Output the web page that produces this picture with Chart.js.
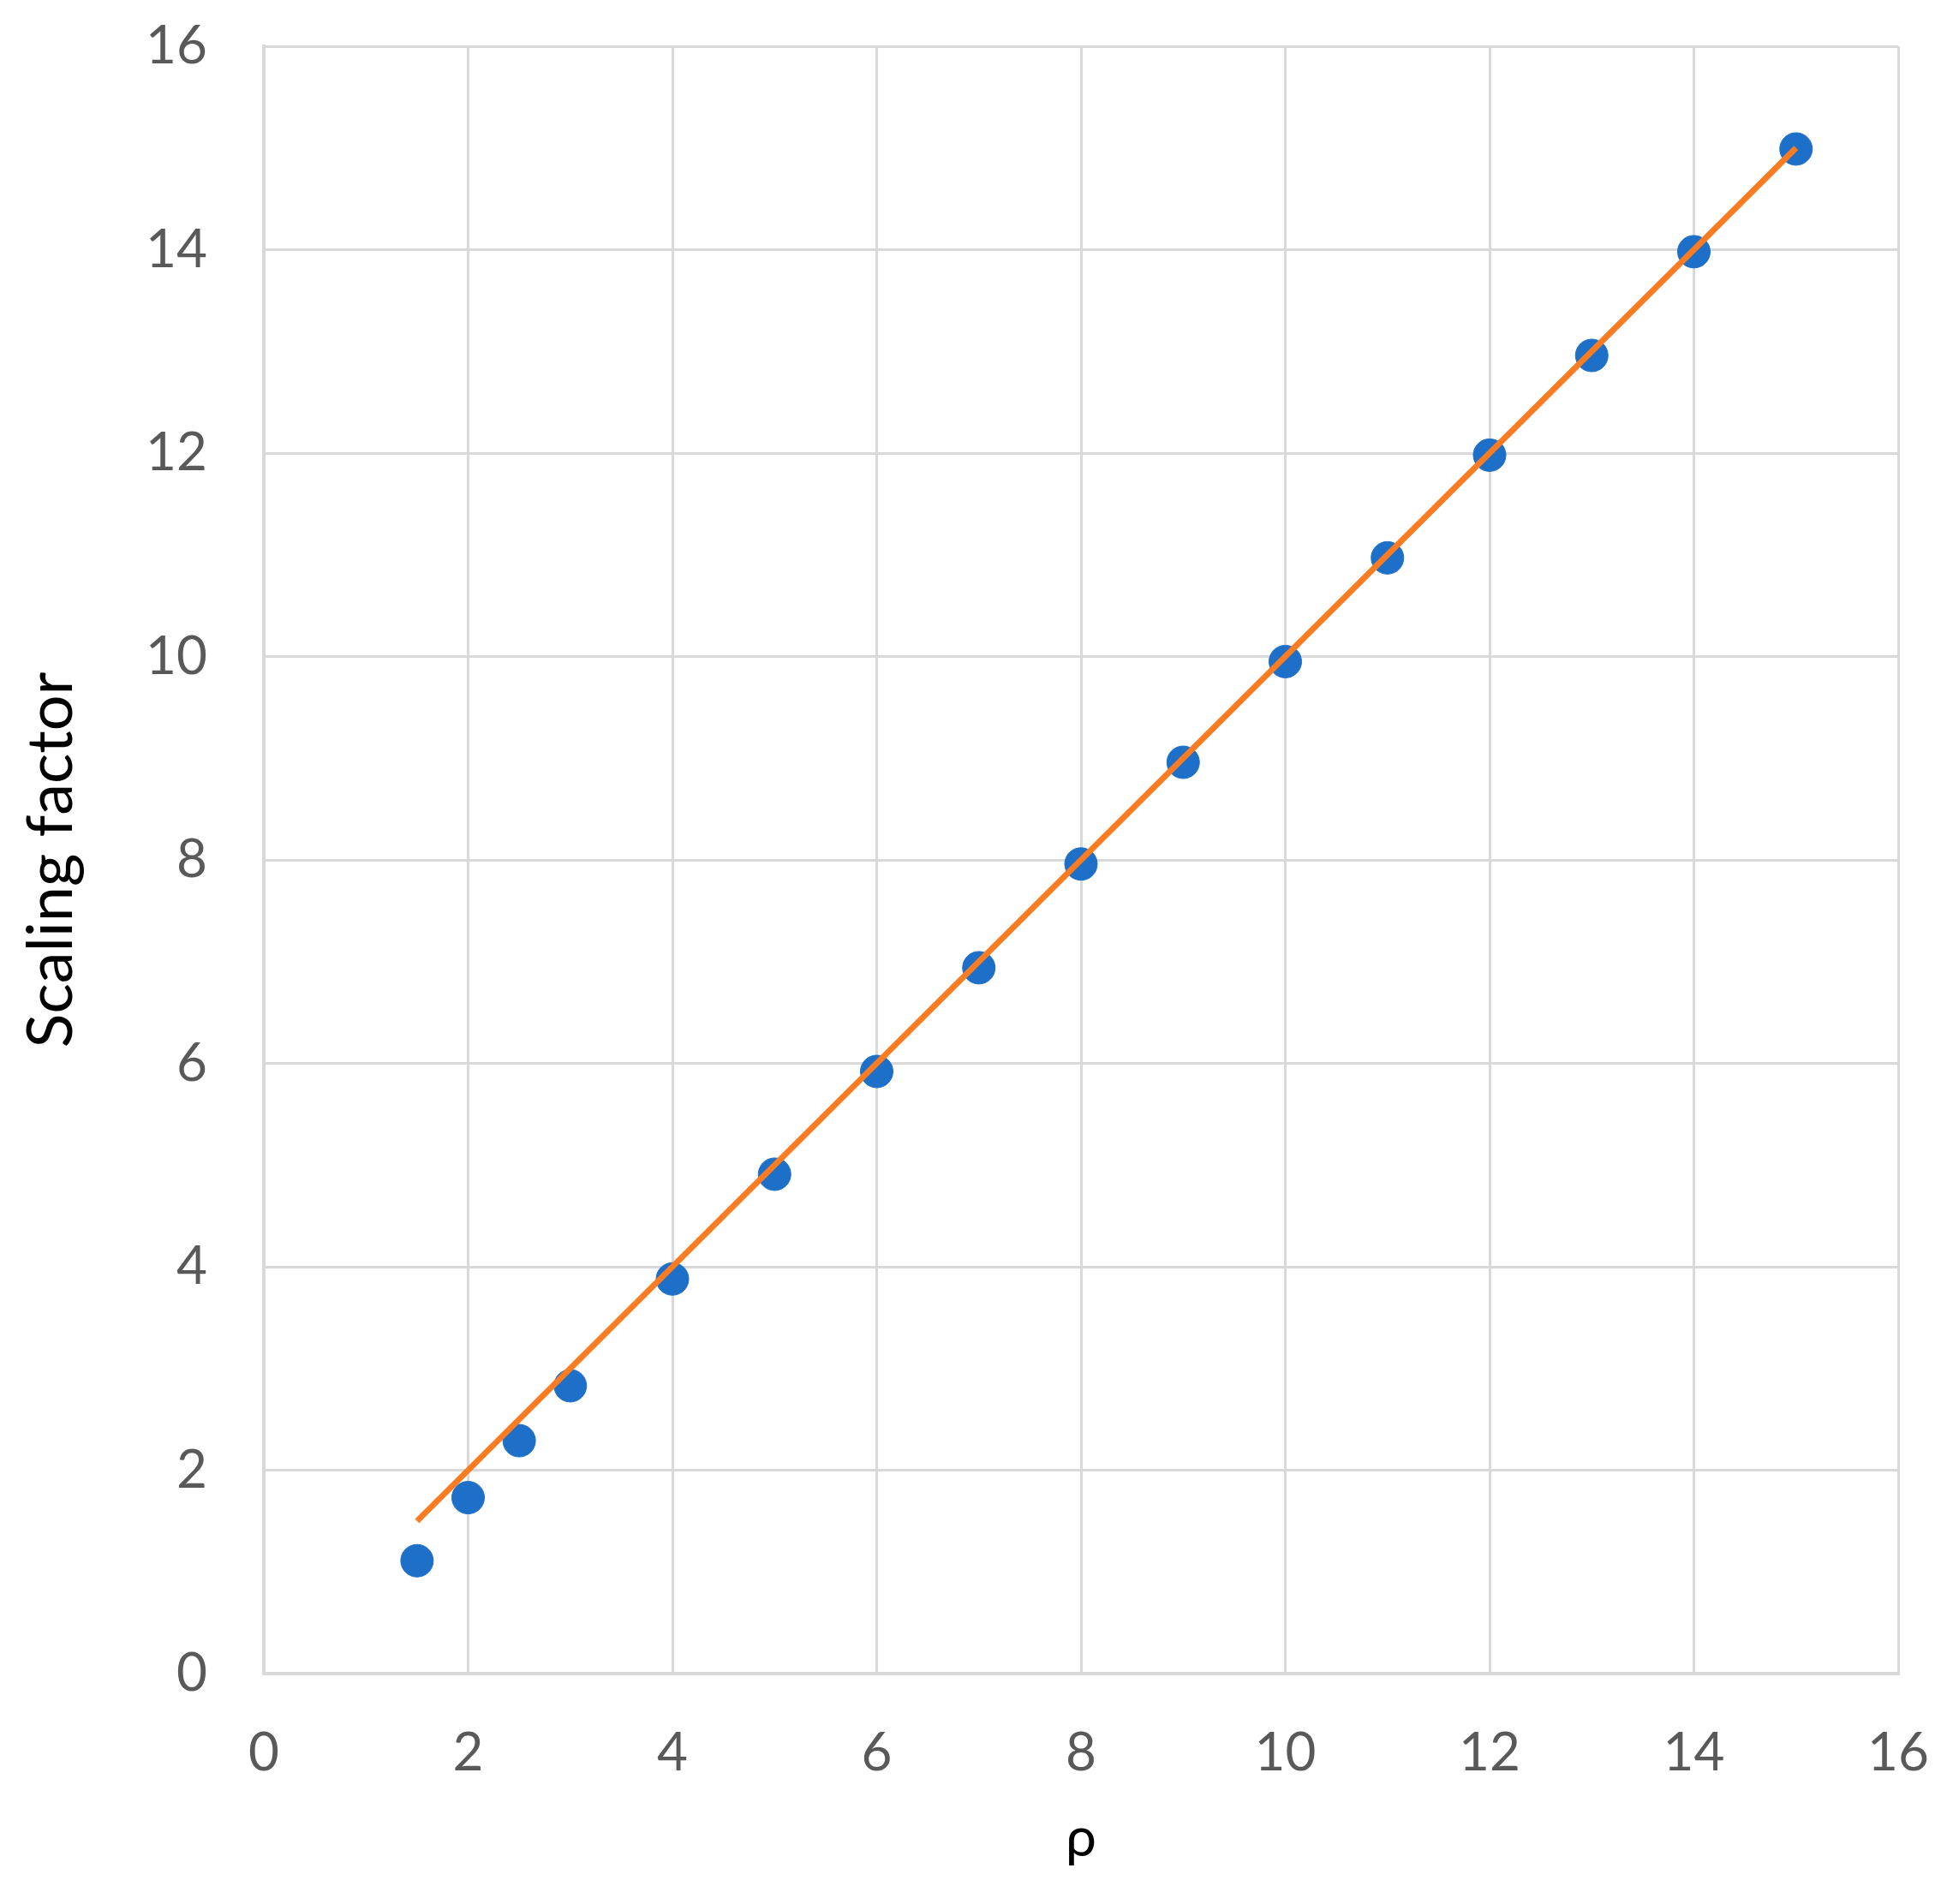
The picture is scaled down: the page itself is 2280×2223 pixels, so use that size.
<!DOCTYPE html>
<html>
<head>
<meta charset="utf-8">
<script src="https://cdn.jsdelivr.net/npm/chart.js@4.4.1/dist/chart.umd.min.js"></script>
<style>
  html, body { margin: 0; padding: 0; background: #fff; }
  #wrap { width: 2280px; height: 2223px; }
</style>
</head>
<body>
<div id="wrap"><canvas id="myChart" width="2280" height="2223"></canvas></div>
<script>
// dati
const rho = [1.5, 2, 2.5, 3, 4, 5, 6, 7, 8, 9, 10, 11, 12, 13, 14, 15];
const scalingFactor = [1.11, 1.73, 2.29, 2.83, 3.88, 4.91, 5.92, 6.94, 7.96, 8.96, 9.95, 10.97, 11.98, 12.96, 13.98, 14.99];
const fitX = [1.5, 15];
const fitY = [1.5, 15];

const fontFamily = 'Lato, "Open Sans", sans-serif';

const ctx = document.getElementById('myChart').getContext('2d');
const chart = new Chart(ctx, {
  type: 'scatter',
  data: {
    datasets: [{
      label: 'Fit',
      type: 'line',
      data: fitX.map((x, i) => ({ x: x, y: fitY[i] })),
      borderColor: '#f97c22',
      borderWidth: 7,
      pointRadius: 0,
      fill: false,
      order: 1
    }, {
      label: 'Scaling factor',
      data: rho.map((x, i) => ({ x: x, y: scalingFactor[i] })),
      backgroundColor: '#1d6fc8',
      borderColor: '#1d6fc8',
      pointRadius: 19,
      pointHoverRadius: 19,
      order: 2
    }]
  },
  options: {
    responsive: false,
    animation: false,
    layout: { padding: { top: 54, right: 64, left: 0, bottom: 0 } },
    scales: {
      x: {
        type: 'linear',
        min: 0,
        max: 16,
        // la distanza delle etichette va nel tickLength (trasparente), non nel padding
        ticks: { stepSize: 2, padding: 0, color: '#595959', font: { family: fontFamily, size: 62 } },
        grid: { color: '#d9d9d9', lineWidth: 3, drawTicks: true, tickLength: 56, tickColor: 'rgba(0,0,0,0)' },
        border: { color: '#d9d9d9', width: 4 },
        title: { display: true, text: 'ρ', color: '#000', padding: { top: 0, bottom: 38 }, font: { family: fontFamily, size: 64 } },
        afterFit: function(scale) { scale.height = 2223 - 1954; }
      },
      y: {
        min: 0,
        max: 16,
        ticks: { stepSize: 2, padding: 0, color: '#595959', font: { family: fontFamily, size: 62 } },
        grid: { color: '#d9d9d9', lineWidth: 3, drawTicks: true, tickLength: 66, tickColor: 'rgba(0,0,0,0)' },
        border: { color: '#d9d9d9', width: 4 },
        title: { display: true, text: 'Scaling factor', color: '#000', padding: { top: 16, bottom: 0 }, font: { family: fontFamily, size: 74 } },
        afterFit: function(scale) { scale.width = 308; }
      }
    },
    plugins: {
      legend: { display: false },
      tooltip: { enabled: false }
    }
  }
});
</script>
</body>
</html>
